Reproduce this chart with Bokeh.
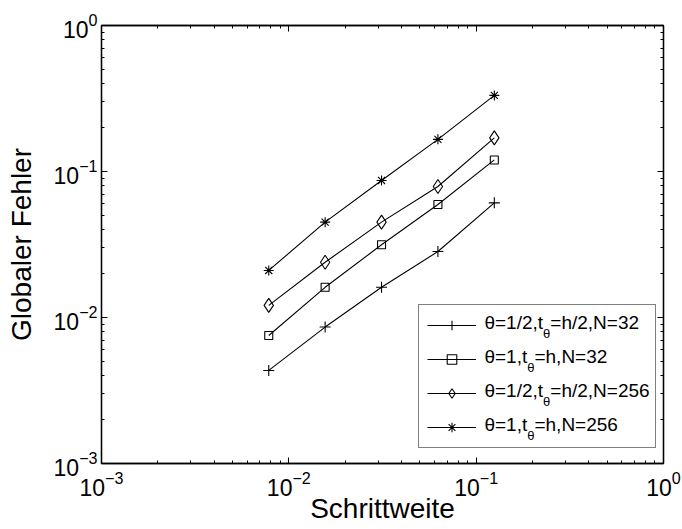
from bokeh.plotting import figure
from bokeh.models import (Range1d, LogAxis, FixedTicker, Legend, LegendItem,
                          CustomJSTickFormatter, LogTickFormatter)
from bokeh.core.properties import value
from bokeh.embed import file_html
from bokeh.resources import INLINE

# ---- data ----
h = [1/128, 1/64, 1/32, 1/16, 1/8]
err_half_N32 = [0.00434, 0.0086, 0.0161, 0.0283, 0.0610]
err_one_N32 = [0.00753, 0.0161, 0.0315, 0.0594, 0.120]
err_half_N256 = [0.0121, 0.0239, 0.0450, 0.0789, 0.170]
err_one_N256 = [0.0210, 0.0450, 0.0868, 0.166, 0.332]

series = [err_half_N32, err_one_N32, err_half_N256, err_one_N256]
markers = ["cross", "square", "diamond", "asterisk"]
marker_sizes = [11, 8, 14, 10]
legend_parts = [("θ=1/2,t", "θ", "=h/2,N=32"),
                ("θ=1,t", "θ", "=h,N=32"),
                ("θ=1/2,t", "θ", "=h/2,N=256"),
                ("θ=1,t", "θ", "=h,N=256")]
tick_exps = [-3, -2, -1, 0]
x_title = "Schrittweite"
y_title = "Globaler Fehler"

FONT = "Liberation Sans"
ARIAL_W = {'θ': 556, '=': 584, '1': 556, '/': 278, '2': 556, ',': 278, 't': 278,
           'h': 556, 'N': 722, '3': 556, '5': 556, '6': 556}


def text_w(s, size):
    return sum(ARIAL_W.get(c, 556) for c in s) * size / 1000.0


p = figure(frame_width=562, frame_height=438, x_axis_type="log", y_axis_type="log",
           x_range=Range1d(1e-3, 1), y_range=Range1d(1e-3, 1),
           output_backend="svg", toolbar_location=None,
           min_border_left=101, min_border_right=19, min_border_top=25, min_border_bottom=66)
p.grid.visible = False
p.outline_line_color = "black"
p.outline_line_width = 1.3

majors = [10.0 ** e for e in tick_exps]
minors = [m * 10.0 ** e for e in tick_exps[:-1] for m in range(2, 10)]


def style_axis(ax, labels):
    ax.ticker = FixedTicker(ticks=majors, minor_ticks=minors)
    if labels:
        ax.formatter = LogTickFormatter()
    else:
        ax.formatter = CustomJSTickFormatter(code="return '';")
    ax.major_tick_in = 6
    ax.major_tick_out = 0
    ax.minor_tick_in = 3
    ax.minor_tick_out = 0
    ax.axis_line_color = "black"
    ax.axis_line_width = 1.3
    ax.major_tick_line_color = "black"
    ax.minor_tick_line_color = "black"
    ax.major_label_text_font = FONT
    ax.major_label_text_font_size = "23px"
    ax.major_label_text_color = "black"
    ax.axis_label_text_font = FONT
    ax.axis_label_text_font_size = "28px"
    ax.axis_label_text_font_style = "normal"
    ax.axis_label_text_color = "black"


style_axis(p.xaxis[0], True)
style_axis(p.yaxis[0], True)
p.xaxis[0].major_label_standoff = 7
p.yaxis[0].major_label_standoff = 4
p.xaxis[0].axis_label = x_title
p.yaxis[0].axis_label = y_title
p.xaxis[0].axis_label_standoff = -6
p.yaxis[0].axis_label_standoff = 14

top_ax = LogAxis()
right_ax = LogAxis()
style_axis(top_ax, False)
style_axis(right_ax, False)
p.add_layout(top_ax, "above")
p.add_layout(right_ax, "right")

items = []
for ys, mk, ms in zip(series, markers, marker_sizes):
    rl = p.line(h, ys, line_color="black", line_width=1.1)
    rs = p.scatter(h, ys, marker=mk, size=ms, fill_color=None, line_color="black", line_width=1.1)
    items.append(LegendItem(label=" ", renderers=[rl, rs]))

legend = Legend(items=items, location=(317, 15), orientation="vertical",
                padding=8, spacing=10, glyph_width=49, glyph_height=24,
                label_height=24, label_width=166, label_standoff=5,
                border_line_color="black", border_line_width=1.3,
                background_fill_alpha=0.0, margin=0,
                label_text_font_size="10px")
p.add_layout(legend)

# legend texts, anchored at the frame's bottom-right corner with pixel offsets
for i, (a, s, b) in enumerate(legend_parts):
    yl = -137 + 34 * i
    x0 = -179
    x1 = x0 + text_w(a, 19)
    x2 = x1 + text_w(s, 13)
    for txt, xo, yo, fs in [(a, x0, yl - 4, "19px"), (s, x1, yl + 7, "13px"), (b, x2, yl - 4, "19px")]:
        p.text(x=[0.999], y=[1.001e-3], text=[txt], x_offset=xo, y_offset=yo,
               text_font=value(FONT), text_font_size=fs, text_color="black",
               text_align="left", text_baseline="alphabetic")

open("out.html", "w").write(file_html(p, INLINE))
